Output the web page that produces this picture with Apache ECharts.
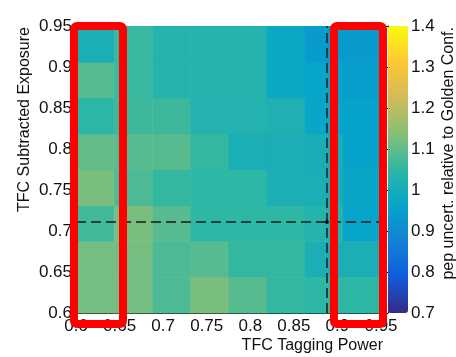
<!DOCTYPE html>
<html>
<head>
<meta charset="utf-8">
<script src="https://cdn.jsdelivr.net/npm/echarts@6/dist/echarts.min.js"></script>
<style>
  html, body { margin: 0; padding: 0; background: #fff; }
  #chart { width: 456px; height: 357px; }
</style>
</head>
<body>
<div id="chart"></div>
<script>
// Scan points (bin centres of the 8x8 histogram)
const taggingPower = [0.6, 0.65, 0.7, 0.75, 0.8, 0.85, 0.9, 0.95];
const subtractedExposure = [0.6, 0.65, 0.7, 0.75, 0.8, 0.85, 0.9, 0.95];

// pep uncertainty relative to the golden configuration,
// one row per subtracted-exposure bin, listed along tagging power
const rowExp060 = [1.12, 1.12, 1.08, 1.125, 1.09, 1.055, 1.05, 1.05];
const rowExp065 = [1.12, 1.12, 1.08, 1.09, 1.055, 1.055, 1.01, 1.01];
const rowExp070 = [1.07, 1.125, 1.09, 1.05, 1.05, 1.05, 1.03, 0.965];
const rowExp075 = [1.125, 1.08, 1.055, 1.05, 1.05, 1.01, 1.01, 0.97];
const rowExp080 = [1.10, 1.09, 1.09, 1.055, 1.01, 1.01, 1.005, 0.96];
const rowExp085 = [1.045, 1.065, 1.065, 1.025, 1.025, 1.02, 0.97, 0.96];
const rowExp090 = [1.09, 1.06, 1.03, 1.03, 1.03, 0.975, 0.965, 0.945];
const rowExp095 = [1.01, 1.06, 1.03, 1.03, 1.03, 0.975, 0.94, 0.94];
const rows = [rowExp060, rowExp065, rowExp070, rowExp075, rowExp080, rowExp085, rowExp090, rowExp095];

// Axis ticks
const axisTicks = [0.6, 0.65, 0.7, 0.75, 0.8, 0.85, 0.9, 0.95];
const colorTicks = [0.7, 0.8, 0.9, 1.0, 1.1, 1.2, 1.3, 1.4];

// Working-point cuts (dashed lines)
const powerCut = 0.888;
const exposureCut = 0.711;

// Highlighted tagging-power columns: [xFrom, xTo, yFrom, yTo]
const highlightBoxes = [
  [0.5977, 0.6539, 0.5866, 0.95],
  [0.8960, 0.9523, 0.5866, 0.95]
];

// kBird palette
const birdColors = ['#352a87', '#0f5cdd', '#1481d6', '#06a4ca', '#2eb7a4',
                    '#87bf77', '#d1bb59', '#fec832', '#f9fb0e'];

const xMin = axisTicks[0], xMax = axisTicks[axisTicks.length - 1];
const yMin = axisTicks[0], yMax = axisTicks[axisTicks.length - 1];
const binW = (xMax - xMin) / taggingPower.length;
const binH = (yMax - yMin) / subtractedExposure.length;

const cells = [];
rows.forEach(function (row, j) {
  row.forEach(function (v, i) {
    cells.push([xMin + (i + 0.5) * binW, yMin + (j + 0.5) * binH, v]);
  });
});

const textColor = '#111';
const font = 'Liberation Sans, Arial, sans-serif';

const chart = echarts.init(document.getElementById('chart'), null, { renderer: 'canvas' });

chart.setOption({
  animation: false,
  backgroundColor: '#fff',
  grid: [
    { left: 76, right: 75, top: 26, bottom: 44 },
    { left: 388, width: 20, top: 26, bottom: 44 }
  ],
  xAxis: [
    {
      type: 'value', gridIndex: 0, min: xMin, max: xMax, interval: 0.05,
      axisLine: { show: true, lineStyle: { color: '#000', width: 1 } },
      axisTick: { show: true, inside: true, length: 10, lineStyle: { color: '#000' } },
      minorTick: { show: true, splitNumber: 5, length: 5, lineStyle: { color: '#000' } },
      splitLine: { show: false },
      axisLabel: { color: textColor, fontSize: 17, fontFamily: font, margin: 5 }
    },
    { type: 'value', gridIndex: 1, min: 0, max: 1, show: false }
  ],
  yAxis: [
    {
      type: 'value', gridIndex: 0, min: yMin, max: yMax, interval: 0.05,
      axisLine: { show: true, lineStyle: { color: '#000', width: 1 } },
      axisTick: { show: true, inside: true, length: 10, lineStyle: { color: '#000' } },
      minorTick: { show: true, splitNumber: 5, length: 5, lineStyle: { color: '#000' } },
      splitLine: { show: false },
      axisLabel: { color: textColor, fontSize: 17, fontFamily: font, margin: 4 }
    },
    {
      type: 'value', gridIndex: 1, position: 'right',
      min: colorTicks[0], max: colorTicks[colorTicks.length - 1], interval: 0.1,
      axisLine: { show: true, lineStyle: { color: '#000', width: 1 } },
      axisTick: { show: true, inside: true, length: 6, lineStyle: { color: '#000' } },
      splitLine: { show: false },
      axisLabel: { color: textColor, fontSize: 17, fontFamily: font, margin: 3 }
    }
  ],
  visualMap: {
    type: 'continuous',
    min: colorTicks[0], max: colorTicks[colorTicks.length - 1],
    dimension: 2, seriesIndex: 0,
    calculable: false,
    left: 388, top: 26, itemWidth: 20, itemHeight: 287, padding: 0,
    inRange: { color: birdColors },
    textStyle: { color: 'transparent' }
  },
  graphic: [
    {
      type: 'text', x: 25, y: 27, rotation: Math.PI / 2,
      style: { text: 'TFC Subtracted Exposure', fill: textColor, font: '16px ' + font,
               align: 'right', verticalAlign: 'middle' }
    },
    {
      type: 'text', x: 383, y: 346,
      style: { text: 'TFC Tagging Power', fill: textColor, font: '16px ' + font,
               align: 'right', verticalAlign: 'middle' }
    },
    {
      type: 'text', x: 449, y: 27, rotation: Math.PI / 2,
      style: { text: 'pep uncert. relative to Golden Conf.', fill: textColor, font: '16px ' + font,
               align: 'right', verticalAlign: 'middle' }
    }
  ],
  series: [
    {
      type: 'custom', xAxisIndex: 0, yAxisIndex: 0,
      data: cells,
      renderItem: function (params, api) {
        const cx = api.value(0), cy = api.value(1);
        const p0 = api.coord([cx - binW / 2, cy + binH / 2]);
        const p1 = api.coord([cx + binW / 2, cy - binH / 2]);
        return {
          type: 'rect',
          shape: { x: p0[0], y: p0[1], width: p1[0] - p0[0] + 0.5, height: p1[1] - p0[1] + 0.5 },
          style: { fill: api.visual('color') }
        };
      },
      z: 1
    },
    {
      type: 'line', xAxisIndex: 0, yAxisIndex: 0,
      data: [[xMin, exposureCut], [xMax, exposureCut]],
      symbol: 'none', silent: true,
      lineStyle: { color: '#1a1a1a', width: 1.5, type: [10, 5] },
      z: 5
    },
    {
      type: 'line', xAxisIndex: 0, yAxisIndex: 0,
      data: [[powerCut, yMin], [powerCut, yMax]],
      symbol: 'none', silent: true,
      lineStyle: { color: '#1a1a1a', width: 1.5, type: [10, 5] },
      z: 5
    },
    {
      type: 'scatter', xAxisIndex: 0, yAxisIndex: 0,
      data: [[powerCut, exposureCut]],
      symbol: 'circle', symbolSize: 4, silent: true,
      itemStyle: { color: '#000' },
      z: 6
    },
    {
      type: 'custom', xAxisIndex: 0, yAxisIndex: 0,
      data: highlightBoxes,
      clip: false, silent: true,
      renderItem: function (params, api) {
        const p0 = api.coord([api.value(0), api.value(3)]);
        const p1 = api.coord([api.value(1), api.value(2)]);
        return {
          type: 'rect',
          shape: { x: p0[0], y: p0[1], width: p1[0] - p0[0], height: p1[1] - p0[1], r: 3 },
          style: { fill: 'none', stroke: '#ff0000', lineWidth: 8 }
        };
      },
      z: 20
    }
  ]
});
</script>
</body>
</html>
